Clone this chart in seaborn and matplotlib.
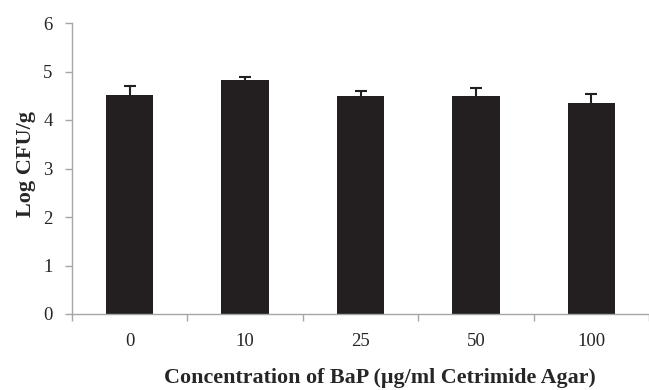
import matplotlib
matplotlib.use("Agg")
import matplotlib.pyplot as plt
import seaborn as sns
import numpy as np
import pandas as pd
from matplotlib.ticker import FixedLocator

categories = ["0", "10", "25", "50", "100"]
values = [4.52, 4.82, 4.49, 4.49, 4.35]
errors = [0.18, 0.06, 0.11, 0.18, 0.18]
yticks = [0, 1, 2, 3, 4, 5, 6]

sns.set_style("white")
plt.rcParams['font.family'] = ['Liberation Serif', 'DejaVu Serif']

df = pd.DataFrame({"conc": categories, "val": values})

fig = plt.figure(figsize=(6.49, 3.90), dpi=100)
ax = fig.add_axes([72/649, 76/390, 577/649, 291/390])

bar_color = "#231f20"
sns.barplot(data=df, x="conc", y="val", order=categories, color=bar_color,
            width=0.41, errorbar=None, saturation=1, ax=ax)
for p in ax.patches:
    p.set_edgecolor("none")

xpos = np.arange(len(categories))
eb = ax.errorbar(xpos, values, yerr=[np.zeros(len(errors)), errors], fmt="none",
                 ecolor=bar_color, elinewidth=1.5, capsize=4.5, capthick=1.5)
# hide lower caps (only upper error shown)
eb[1][0].set_visible(False)

ax.set_xlim(-0.5, len(categories) - 0.5)
ax.set_ylim(0, 6)
ax.set_yticks(yticks)

axis_col = "#a6a6a6"
for s in ["top", "right"]:
    ax.spines[s].set_visible(False)
for s in ["left", "bottom"]:
    ax.spines[s].set_color(axis_col)
    ax.spines[s].set_linewidth(1.0)

ax.tick_params(axis="y", direction="out", length=5, width=1, color=axis_col,
               labelsize=13.5, pad=9, left=True)
ax.tick_params(axis="x", which="major", length=0, labelsize=13.5, pad=14)
ax.xaxis.set_minor_locator(FixedLocator(np.arange(-0.5, len(categories), 1.0)))
ax.tick_params(axis="x", which="minor", direction="out", length=5, width=1,
               color=axis_col, bottom=True)

ax.set_xlabel("Concentration of BaP (µg/ml Cetrimide Agar)", fontsize=15.8,
              fontweight="bold")
ax.set_ylabel("Log CFU/g", fontsize=16, fontweight="bold")
ax.xaxis.set_label_coords(0.534, -0.185)
ax.yaxis.set_label_coords(-0.062, 0.517)

fig.savefig("out.png", dpi=100)
